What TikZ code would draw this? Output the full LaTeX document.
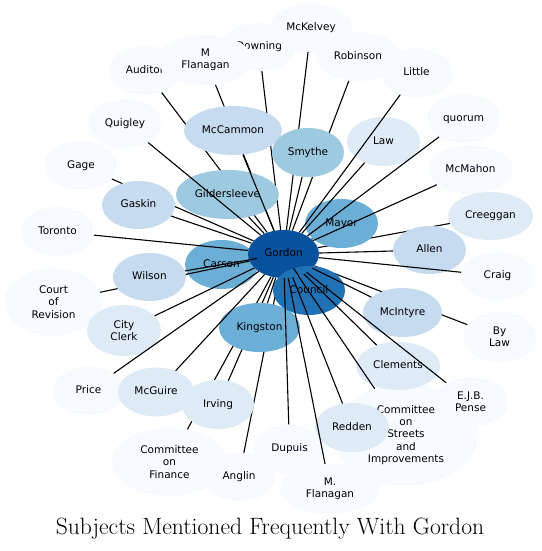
\documentclass[tikz,border=0pt]{standalone}
\usepackage{fontspec}
\newfontfamily\labelfont{DejaVu Sans}
\usetikzlibrary{shapes.geometric}

\definecolor{tone1}{HTML}{F7FBFF}
\definecolor{tone2}{HTML}{DEEBF7}
\definecolor{tone3}{HTML}{C6DBEF}
\definecolor{tone4}{HTML}{9ECAE1}
\definecolor{tone5}{HTML}{6BAED6}
\definecolor{tone6}{HTML}{2171B5}
\definecolor{tone7}{HTML}{08519C}

\newcommand{\lblfont}{\labelfont\fontsize{10.5}{12.2}\selectfont}

\pgfdeclarelayer{base}
\pgfdeclarelayer{low}
\pgfsetlayers{base,low,main}

\begin{document}
\begin{tikzpicture}[
    x=1pt, y=-1pt,
    ent/.style={ellipse, inner sep=1pt, minimum width=73pt, minimum height=49pt,
                text height=8pt, text depth=2.5pt, font=\lblfont},
    multi/.style={ellipse, inner sep=1pt, align=center, font=\lblfont},
    edge/.style={line width=1.1pt, black}
  ]
    \useasboundingbox (0,0) rectangle (541,551);

    % Bottom: paper and the node that lies under the crossing lines
    \begin{pgfonlayer}{base}
      \fill[white] (0,0) rectangle (541,551);
      \node[ent, fill=tone5] (carson) at (221.5,264.5) {Carson};
    \end{pgfonlayer}

    % Outer ring
    \node[ent, fill=tone1, minimum width=72pt] (auditor) at (145,70.5) {Auditor};
    \node[ent, fill=tone1, minimum width=74pt, minimum height=48pt] (downing) at (259,47) {Downing};
    \node[multi, fill=tone1, minimum width=95pt, minimum height=50pt] (mflanA) at (205.5,60) {M\\Flanagan};
    \node[ent, fill=tone1, minimum width=82pt, minimum height=48pt] (mckelvey) at (311,28) {McKelvey};
    \node[ent, fill=tone1, minimum width=84pt] (robinson) at (358,56.5) {Robinson};
    \node[ent, fill=tone1] (little) at (416.5,72.5) {Little};
    \node[ent, fill=tone1] (quorum) at (463.5,118.5) {quorum};
    \node[ent, fill=tone1, minimum width=85pt] (mcmahon) at (470.5,169.5) {McMahon};
    \node[ent, fill=tone1] (quigley) at (125,123.5) {Quigley};
    \node[ent, fill=tone1] (gage) at (81,165.5) {Gage};
    \node[ent, fill=tone1] (toronto) at (57.5,231.5) {Toronto};
    \node[multi, fill=tone1, minimum width=97pt, minimum height=68pt] (court) at (53.5,302) {Court\\of\\Revision};
    \node[ent, fill=tone1, minimum height=48pt] (craig) at (497.5,276) {Craig};
    \node[multi, fill=tone1, minimum width=73pt, minimum height=50pt] (bylaw) at (499.5,337) {By\\Law};
    \node[ent, fill=tone1, minimum height=48pt] (price) at (88.5,391) {Price};
    \node[multi, fill=tone1, minimum width=144pt, minimum height=102pt] (streets) at (406,435) {Committee\\on\\Streets\\and\\Improvements};
    \node[multi, fill=tone1, minimum width=75pt, minimum height=50pt] (pense) at (470.5,402) {E.J.B.\\Pense};
    \node[ent, fill=tone1, minimum width=72pt, minimum height=48pt] (anglin) at (239,477) {Anglin};
    \node[multi, fill=tone1, minimum width=115pt, minimum height=68pt] (finance) at (169.5,462) {Committee\\on\\Finance};
    \node[ent, fill=tone1] (dupuis) at (289.5,449) {Dupuis};
    \node[multi, fill=tone1, minimum width=100pt, minimum height=50pt] (mflanB) at (330,489) {M.\\Flanagan};

    % Middle ring
    \node[ent, fill=tone2] (law) at (383.5,141.5) {Law};
    \node[ent, fill=tone2, minimum width=85pt, minimum height=48pt] (creeggan) at (490.5,216) {Creeggan};
    \node[multi, fill=tone2, minimum width=74pt, minimum height=51pt] (clerk) at (124,330.5) {City\\Clerk};
    \node[ent, fill=tone2, minimum width=76pt] (mcguire) at (156,392) {McGuire};
    \node[ent, fill=tone2, minimum width=72pt] (irving) at (218,404.5) {Irving};
    \node[ent, fill=tone2, minimum width=84pt, minimum height=48pt] (clements) at (398,366) {Clements};
    \node[ent, fill=tone2, minimum width=74pt] (redden) at (352,427.5) {Redden};
    \node[ent, fill=tone3, minimum width=98pt] (mccammon) at (233,130.5) {McCammon};
    \node[ent, fill=tone3, minimum height=48pt] (gaskin) at (138.5,205) {Gaskin};
    \node[ent, fill=tone3, minimum height=48pt] (wilson) at (149.5,277) {Wilson};
    \node[ent, fill=tone3, minimum height=48pt] (allen) at (429.5,250) {Allen};
    \node[ent, fill=tone3, minimum width=79pt] (mcintyre) at (402.5,312.5) {McIntyre};
    \node[ent, fill=tone4, minimum width=72pt] (smythe) at (308,152.5) {Smythe};
    \node[ent, fill=tone4, minimum width=103pt] (gilder) at (227.5,194.5) {Gildersleeve};

    % Centre
    \node[ent, fill=tone5] (mayor) at (341.5,223.5) {Mayor};
    \node[ent, fill=tone5, minimum width=81pt] (kingston) at (259.5,327.5) {Kingston};
    \node[ent, fill=tone7, minimum width=71pt, minimum height=48pt] (gordon) at (283.5,254) {Gordon};
    \node[ent, fill=tone6, minimum width=72pt] (council) at (309,290.5) {Council};

    % Links hidden under nearer nodes
    \begin{pgfonlayer}{low}
      \draw[edge] (auditor) -- (gordon);
      \draw[edge] (mflanA) -- (gordon);
      \draw[edge] (downing) -- (gordon);
      \draw[edge] (mckelvey) -- (gordon);
      \draw[edge] (robinson) -- (gordon);
      \draw[edge] (gage) -- (gordon);
      \draw[edge] (court) -- (gordon);
      \draw[edge] (finance) -- (gordon);
      \draw[edge] (anglin) -- (gordon);
      \draw[edge] (irving) -- (gordon);
      \draw[edge] (creeggan) -- (gordon);
      \draw[edge] (bylaw) -- (gordon);
    \end{pgfonlayer}

    % Links on top
    \draw[edge] (little) -- (gordon);
    \draw[edge] (quorum) -- (gordon);
    \draw[edge] (mcmahon) -- (gordon);
    \draw[edge] (quigley) -- (gordon);
    \draw[edge] (toronto) -- (gordon);
    \draw[edge] (craig) -- (gordon);
    \draw[edge] (price) -- (gordon);
    \draw[edge] (streets) -- (gordon);
    \draw[edge] (pense) -- (gordon);
    \draw[edge] (dupuis) -- (gordon);
    \draw[edge] (mflanB) -- (gordon);
    \draw[edge] (law) -- (gordon);
    \draw[edge] (clerk) -- (gordon);
    \draw[edge] (mcguire) -- (gordon);
    \draw[edge] (clements) -- (gordon);
    \draw[edge] (redden) -- (gordon);
    \draw[edge] (mccammon) -- (gordon);
    \draw[edge] (gaskin) -- (gordon);
    \draw[edge] (wilson) -- (gordon);
    \draw[edge] (allen) -- (gordon);
    \draw[edge] (mcintyre) -- (gordon);
    \draw[edge] (smythe) -- (gordon);
    \draw[edge] (gilder) -- (gordon);
    \draw[edge] (mayor) -- (gordon);
    \draw[edge] (kingston) -- (gordon);
    \draw[edge] (council) -- (gordon);
    \draw[edge] (carson) -- (gordon);

    % Title
    \node[font=\fontsize{23.6}{26}\selectfont] (title) at (270,529) {Subjects Mentioned Frequently With Gordon};
\end{tikzpicture}
\end{document}
